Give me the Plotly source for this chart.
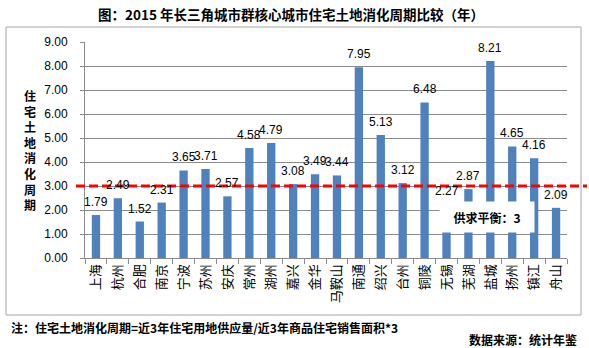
import plotly.graph_objects as go

cities = ["上海", "杭州", "合肥", "南京", "宁波", "苏州", "安庆", "常州", "湖州", "嘉兴", "金华",
          "马鞍山", "南通", "绍兴", "台州", "铜陵", "无锡", "芜湖", "盐城", "扬州", "镇江", "舟山"]
values = [1.79, 2.49, 1.52, 2.31, 3.65, 3.71, 2.57, 4.58, 4.79, 3.08, 3.49,
          3.44, 7.95, 5.13, 3.12, 6.48, 2.27, 2.87, 8.21, 4.65, 4.16, 2.09]
balance = 3
y_ticks = [0, 1, 2, 3, 4, 5, 6, 7, 8, 9]

title_text = "图：2015 年长三角城市群核心城市住宅土地消化周期比较（年）"
ytitle_text = "住宅土地消化周期"
note_text = "注：住宅土地消化周期=近3年住宅用地供应量/近3年商品住宅销售面积*3"
source_text = "数据来源：统计年鉴"
balance_text = "供求平衡：3"

W, H = 589, 348
ML, MR, MT, MB = 85, 22, 42, 90
PW = W - ML - MR
PH = H - MT - MB


def px(x):
    return (x - ML) / PW


def py(y):
    return (H - MB - y) / PH


CJK = "Noto Sans CJK SC, sans-serif"
NUM = "Liberation Sans, Arial, sans-serif"
GRAY = "#8c8c8c"

fig = go.Figure()
fig.add_trace(go.Bar(x=cities, y=values, marker=dict(color="#4F81BD", line=dict(width=0)),
                     width=0.38, hoverinfo="x+y"))

# data labels
for c, v in zip(cities, values):
    fig.add_annotation(x=c, y=v, xref="x", yref="y", text=f"{v:.2f}", showarrow=False,
                       xanchor="center", yanchor="bottom", yshift=4,
                       font=dict(family=NUM, size=12, color="black"))

# outer frame
fig.add_shape(type="rect", xref="paper", yref="paper", x0=px(6), x1=px(581), y0=py(315), y1=py(27),
              line=dict(color="#a6a6a6", width=1), fillcolor="rgba(0,0,0,0)", layer="below")

# balance line
fig.add_shape(type="line", xref="paper", yref="y", x0=px(76), x1=px(587), y0=balance, y1=balance,
              line=dict(color="#ff0000", width=3, dash="9px,4px"), layer="above")

# balance label box
fig.add_annotation(xref="paper", yref="paper", x=px(487), y=py(217), text=f"<b>{balance_text}</b>",
                   showarrow=False, bgcolor="white", width=92, height=28,
                   xanchor="center", yanchor="middle",
                   font=dict(family=CJK, size=12, color="black"))

# title
fig.add_annotation(xref="paper", yref="paper", x=px(291), y=py(14), text=f"<b>{title_text}</b>",
                   showarrow=False, xanchor="center", yanchor="middle",
                   font=dict(family=CJK, size=13.5, color="black"))

# y-axis title (stacked characters)
fig.add_annotation(xref="paper", yref="paper", x=px(30), y=py(150), text="<b>" + "<br>".join(ytitle_text) + "</b>",
                   showarrow=False, xanchor="center", yanchor="middle",
                   font=dict(family=CJK, size=12, color="black"))

# note and source
fig.add_annotation(xref="paper", yref="paper", x=px(9), y=py(327), text=f"<b>{note_text}</b>",
                   showarrow=False, xanchor="left", yanchor="middle",
                   font=dict(family=CJK, size=12, color="black"))
fig.add_annotation(xref="paper", yref="paper", x=px(579), y=py(339), text=f"<b>{source_text}</b>",
                   showarrow=False, xanchor="right", yanchor="middle",
                   font=dict(family=CJK, size=12, color="black"))

fig.update_layout(
    width=W, height=H,
    margin=dict(l=ML, r=MR, t=MT, b=MB, pad=0),
    paper_bgcolor="white", plot_bgcolor="white",
    showlegend=False,
    bargap=0.6,
    xaxis=dict(type="category", tickangle=-90, showline=True, linecolor=GRAY, linewidth=1,
               ticks="outside", ticklen=5, tickcolor=GRAY, tickson="boundaries",
               showgrid=False, tickfont=dict(family=CJK, size=13, color="black"),
               range=[-0.5, len(cities) - 0.5]),
    yaxis=dict(range=[0, 9], tickvals=y_ticks, tickformat=".2f", showline=True, linecolor=GRAY,
               linewidth=1, ticks="outside", ticklen=4, tickcolor=GRAY, showgrid=True,
               gridcolor=GRAY, gridwidth=1, zeroline=False, ticklabelstandoff=10,
               tickfont=dict(family=NUM, size=12, color="black")),
)

fig.write_html("out.html")
